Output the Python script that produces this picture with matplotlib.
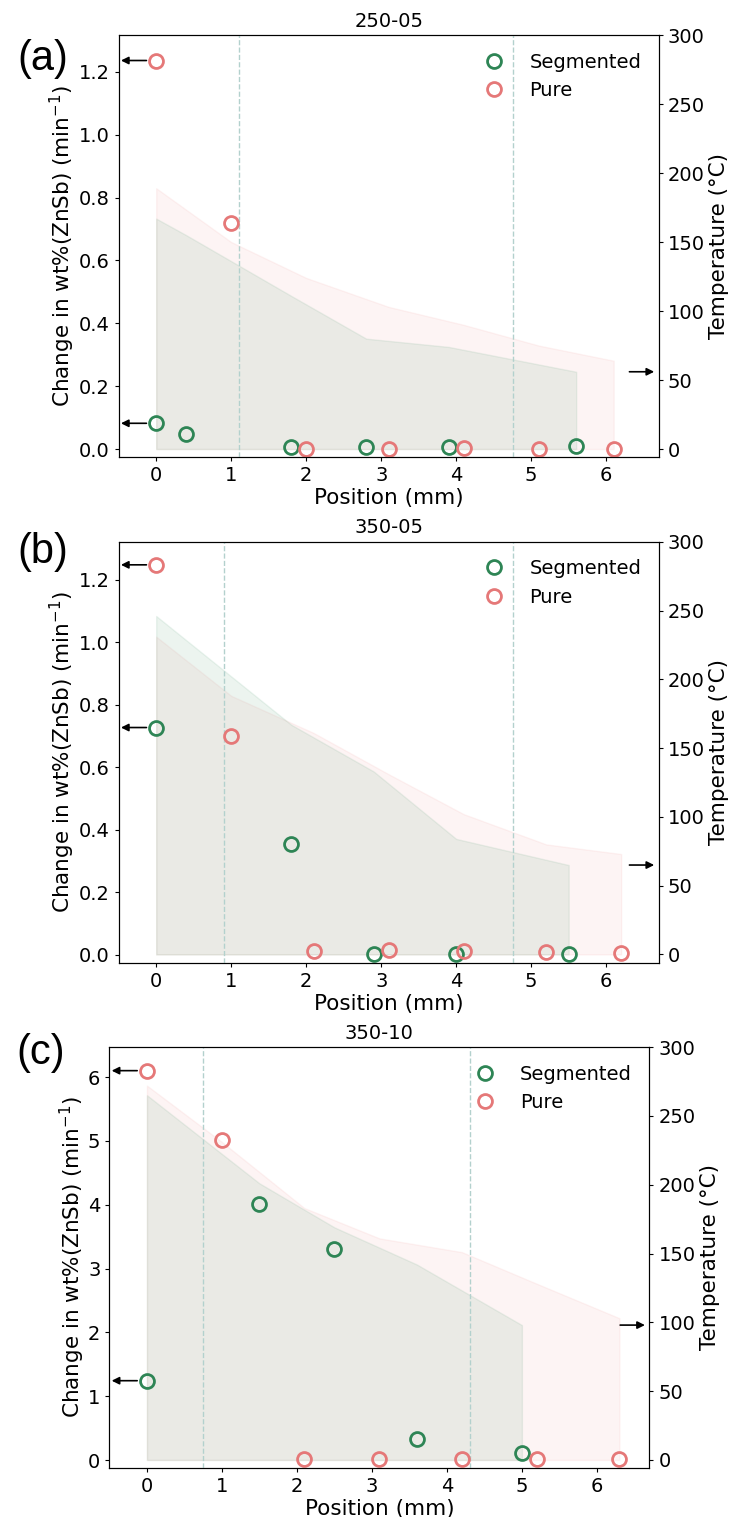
import matplotlib
matplotlib.use("Agg")
import matplotlib.pyplot as plt

plt.rcParams.update({
    "font.size": 14,
    "xtick.labelsize": 14,
    "ytick.labelsize": 14,
    "axes.labelsize": 15.5,
    "axes.titlesize": 14,
    "xtick.major.size": 3,
    "ytick.major.size": 3,
})

GREEN = "#2e8555"
PINK = "#e57878"
FILL_GREEN = "seagreen"
FILL_PINK = "lightcoral"
BOUND = "#b3d1cd"

# --- 250-05 ---
a_seg_x = [0, 0.4, 1.8, 2.8, 3.9, 5.6]
a_seg_rate = [0.082, 0.048, 0.005, 0.008, 0.007, 0.009]
a_seg_temp = [167, 155, 111, 80, 74, 56]
a_pure_x = [0, 1.0, 2.0, 3.1, 4.1, 5.1, 6.1]
a_pure_rate = [1.236, 0.718, 0.001, 0.001, 0.002, 0.001, 0.001]
a_pure_temp = [189, 150, 124, 103, 90, 75, 64]
a_bounds = [1.1, 4.76]

# --- 350-05 ---
b_seg_x = [0, 1.8, 2.9, 4.0, 5.5]
b_seg_rate = [0.727, 0.355, 0.002, 0.002, 0.002]
b_seg_temp = [246, 167, 133, 84, 65]
b_pure_x = [0, 1.0, 2.1, 3.1, 4.1, 5.2, 6.2]
b_pure_rate = [1.248, 0.70, 0.012, 0.015, 0.010, 0.007, 0.005]
b_pure_temp = [231, 188, 161, 131, 102, 80, 73]
b_bounds = [0.9, 4.76]

# --- 350-10 ---
c_seg_x = [0, 1.5, 2.5, 3.6, 5.0]
c_seg_rate = [1.243, 4.01, 3.31, 0.334, 0.105]
c_seg_temp = [265, 201, 169, 142, 98]
c_pure_x = [0, 1.0, 2.1, 3.1, 4.2, 5.2, 6.3]
c_pure_rate = [6.10, 5.02, 0.01, 0.01, 0.01, 0.01, 0.01]
c_pure_temp = [272, 231, 183, 161, 151, 128, 103]
c_bounds = [0.75, 4.31]


def arrow(ax, x0, x1, y):
    ax.annotate("", xy=(x1, y), xytext=(x0, y),
                arrowprops=dict(arrowstyle="-|>", color="black", lw=1.2,
                                mutation_scale=11, shrinkA=0, shrinkB=0))


def draw_panel(fig, rect, title, tag, tag_xy, seg, pure, bounds, ylim, tlim):
    seg_x, seg_rate, seg_temp = seg
    pure_x, pure_rate, pure_temp = pure

    ax = fig.add_axes(rect)
    ax2 = ax.twinx()

    # temperature profiles on the right axis
    ax2.fill_between(pure_x, pure_temp, color=FILL_PINK, alpha=0.085)
    ax2.fill_between(seg_x, seg_temp, color=FILL_GREEN, alpha=0.09)
    ax2.set_ylim(*tlim)
    ax2.set_yticks(range(0, 301, 50))
    ax2.set_ylabel("Temperature (°C)", labelpad=3)
    arrow(ax2, 6.31, 6.64, seg_temp[-1])

    # segment boundaries
    for b in bounds:
        ax.axvline(b, color=BOUND, ls="--", lw=1)

    ax.plot(seg_x, seg_rate, "o", ms=10, mfc="none", mec=GREEN, mew=2,
            label="Segmented")
    ax.plot(pure_x, pure_rate, "o", ms=10, mfc="none", mec=PINK, mew=2,
            label="Pure")
    arrow(ax, -0.13, -0.47, pure_rate[0])
    arrow(ax, -0.13, -0.47, seg_rate[0])

    ax.set_xlim(-0.5, 6.7)
    ax.set_ylim(*ylim)
    ax.set_xticks(range(0, 7))
    ax.set_xlabel("Position (mm)", labelpad=2)
    ax.set_ylabel("Change in wt%(ZnSb) (min$^{-1}$)", labelpad=1)
    ax.set_title(title)
    ax.legend(loc="upper right", frameon=False, fontsize=14)

    # markers above the fills
    ax.set_zorder(ax2.get_zorder() + 1)
    ax.patch.set_visible(False)

    fig.text(tag_xy[0], tag_xy[1], tag, fontsize=30, family="Liberation Sans",
             ha="center", va="center")
    return ax, ax2


fig = plt.figure(figsize=(7.3, 15.17), dpi=100)

draw_panel(fig, [0.1626, 0.6989, 0.7397, 0.2780], "250-05", "(a)", (0.058, 0.961),
           (a_seg_x, a_seg_rate, a_seg_temp), (a_pure_x, a_pure_rate, a_pure_temp),
           a_bounds, (-0.0245, 1.317), (-5.6, 300))
draw_panel(fig, [0.1626, 0.3652, 0.7397, 0.2777], "350-05", "(b)", (0.058, 0.636),
           (b_seg_x, b_seg_rate, b_seg_temp), (b_pure_x, b_pure_rate, b_pure_temp),
           b_bounds, (-0.027, 1.322), (-6.2, 300))
draw_panel(fig, [0.1499, 0.0325, 0.7397, 0.2773], "350-10", "(c)", (0.056, 0.306),
           (c_seg_x, c_seg_rate, c_seg_temp), (c_pure_x, c_pure_rate, c_pure_temp),
           c_bounds, (-0.12, 6.47), (-5.6, 300))

fig.savefig("out.png", dpi=100)
